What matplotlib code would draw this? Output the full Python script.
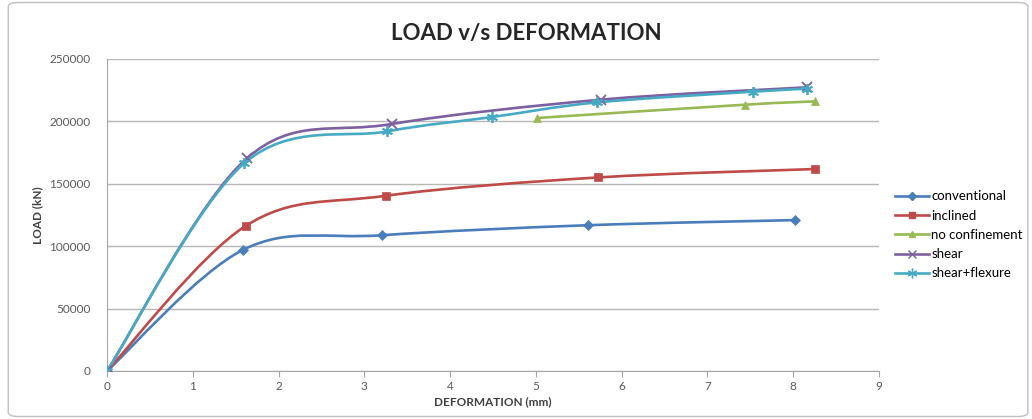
import matplotlib
matplotlib.use('Agg')
import matplotlib.pyplot as plt
from matplotlib.path import Path
from matplotlib.patches import PathPatch, FancyBboxPatch

plt.rcParams['font.family'] = ['Lato', 'DejaVu Sans']

# data
conv_x = [0, 1.59, 3.21, 5.61, 8.02]
conv_y = [0, 97200, 108800, 116800, 120900]
incl_x = [0, 1.62, 3.25, 5.73, 8.25]
incl_y = [0, 116400, 140400, 155100, 161800]
noconf_x = [5.01, 7.44, 8.25]
noconf_y = [202700, 213400, 216000]
shear_x = [0, 1.63, 3.32, 5.76, 8.16]
shear_y = [0, 170400, 197900, 217400, 227300]
shfl_x = [0, 1.60, 3.27, 4.49, 5.71, 7.53, 8.16]
shfl_y = [0, 166500, 192000, 203500, 215200, 223800, 226200]

series = [
    ('conventional', conv_x, conv_y, '#4A7EBB', 'D', 5),
    ('inclined', incl_x, incl_y, '#BE4B48', 's', 6),
    ('no confinement', noconf_x, noconf_y, '#98B954', '^', 6),
    ('shear', shear_x, shear_y, '#7D60A0', 'x', 7),
    ('shear+flexure', shfl_x, shfl_y, '#46AAC5', (6, 2, 0), 8),
]


def smooth_path(xs, ys):
    # Excel style smoothed line: cubic bezier through the points
    pts = list(zip(xs, ys))
    verts = [pts[0]]
    codes = [Path.MOVETO]
    n = len(pts)
    for i in range(n - 1):
        p0 = pts[i - 1] if i > 0 else pts[i]
        p1 = pts[i]
        p2 = pts[i + 1]
        p3 = pts[i + 2] if i + 2 < n else pts[i + 1]
        c1 = (p1[0] + (p2[0] - p0[0]) / 6, p1[1] + (p2[1] - p0[1]) / 6)
        c2 = (p2[0] - (p3[0] - p1[0]) / 6, p2[1] - (p3[1] - p1[1]) / 6)
        verts += [c1, c2, p2]
        codes += [Path.CURVE4] * 3
    return Path(verts, codes)


fig = plt.figure(figsize=(10.32, 4.19), dpi=100)
fig.patches.append(FancyBboxPatch((0.008, 0.006), 0.988, 0.988, boxstyle='round,pad=0,rounding_size=0.01',
                                  transform=fig.transFigure, fill=False, edgecolor='#BFBFBF', lw=1))
ax = fig.add_axes([0.1037, 0.1146, 0.748, 0.7446])

for name, xs, ys, col, mk, ms in series:
    ax.add_patch(PathPatch(smooth_path(xs, ys), fill=False, edgecolor=col, lw=1.9, zorder=3))
    ax.plot(xs, ys, linestyle='none', marker=mk, color=col, markersize=ms,
            markeredgewidth=1.3 if mk in ('x', (6, 2, 0)) else 0.5, zorder=4)
    ax.plot([], [], color=col, lw=1.9, marker=mk, markersize=ms - 1, label=name)

ax.set_xlim(0, 9)
ax.set_ylim(0, 250000)
ax.set_xticks(range(10))
ax.set_yticks(range(0, 250001, 50000))
ax.grid(axis='y', color='#B7B7B7', lw=1)
ax.set_axisbelow(True)
for s in ('top', 'right'):
    ax.spines[s].set_visible(False)
for s in ('left', 'bottom'):
    ax.spines[s].set_color('#A6A6A6')
ax.tick_params(labelsize=8.5, colors='#595959', length=4, color='#A6A6A6')
ax.tick_params(axis='y', length=0, pad=12)

ax.set_xlabel('DEFORMATION (mm)', fontsize=8.5, fontweight='bold', color='#404040', labelpad=3)
ax.set_ylabel('LOAD (kN)', fontsize=8.5, fontweight='bold', color='#404040', labelpad=4)
fig.text(0.51, 0.92, 'LOAD v/s DEFORMATION', ha='center', va='center', fontsize=16,
         fontweight='bold', color='#262626')

ax.legend(loc='center left', bbox_to_anchor=(1.021, 0.436), frameon=False, fontsize=9.5,
          handlelength=2.6, handletextpad=0.15, labelspacing=0.55, borderaxespad=0, borderpad=0)

fig.savefig('out.png', dpi=100)
